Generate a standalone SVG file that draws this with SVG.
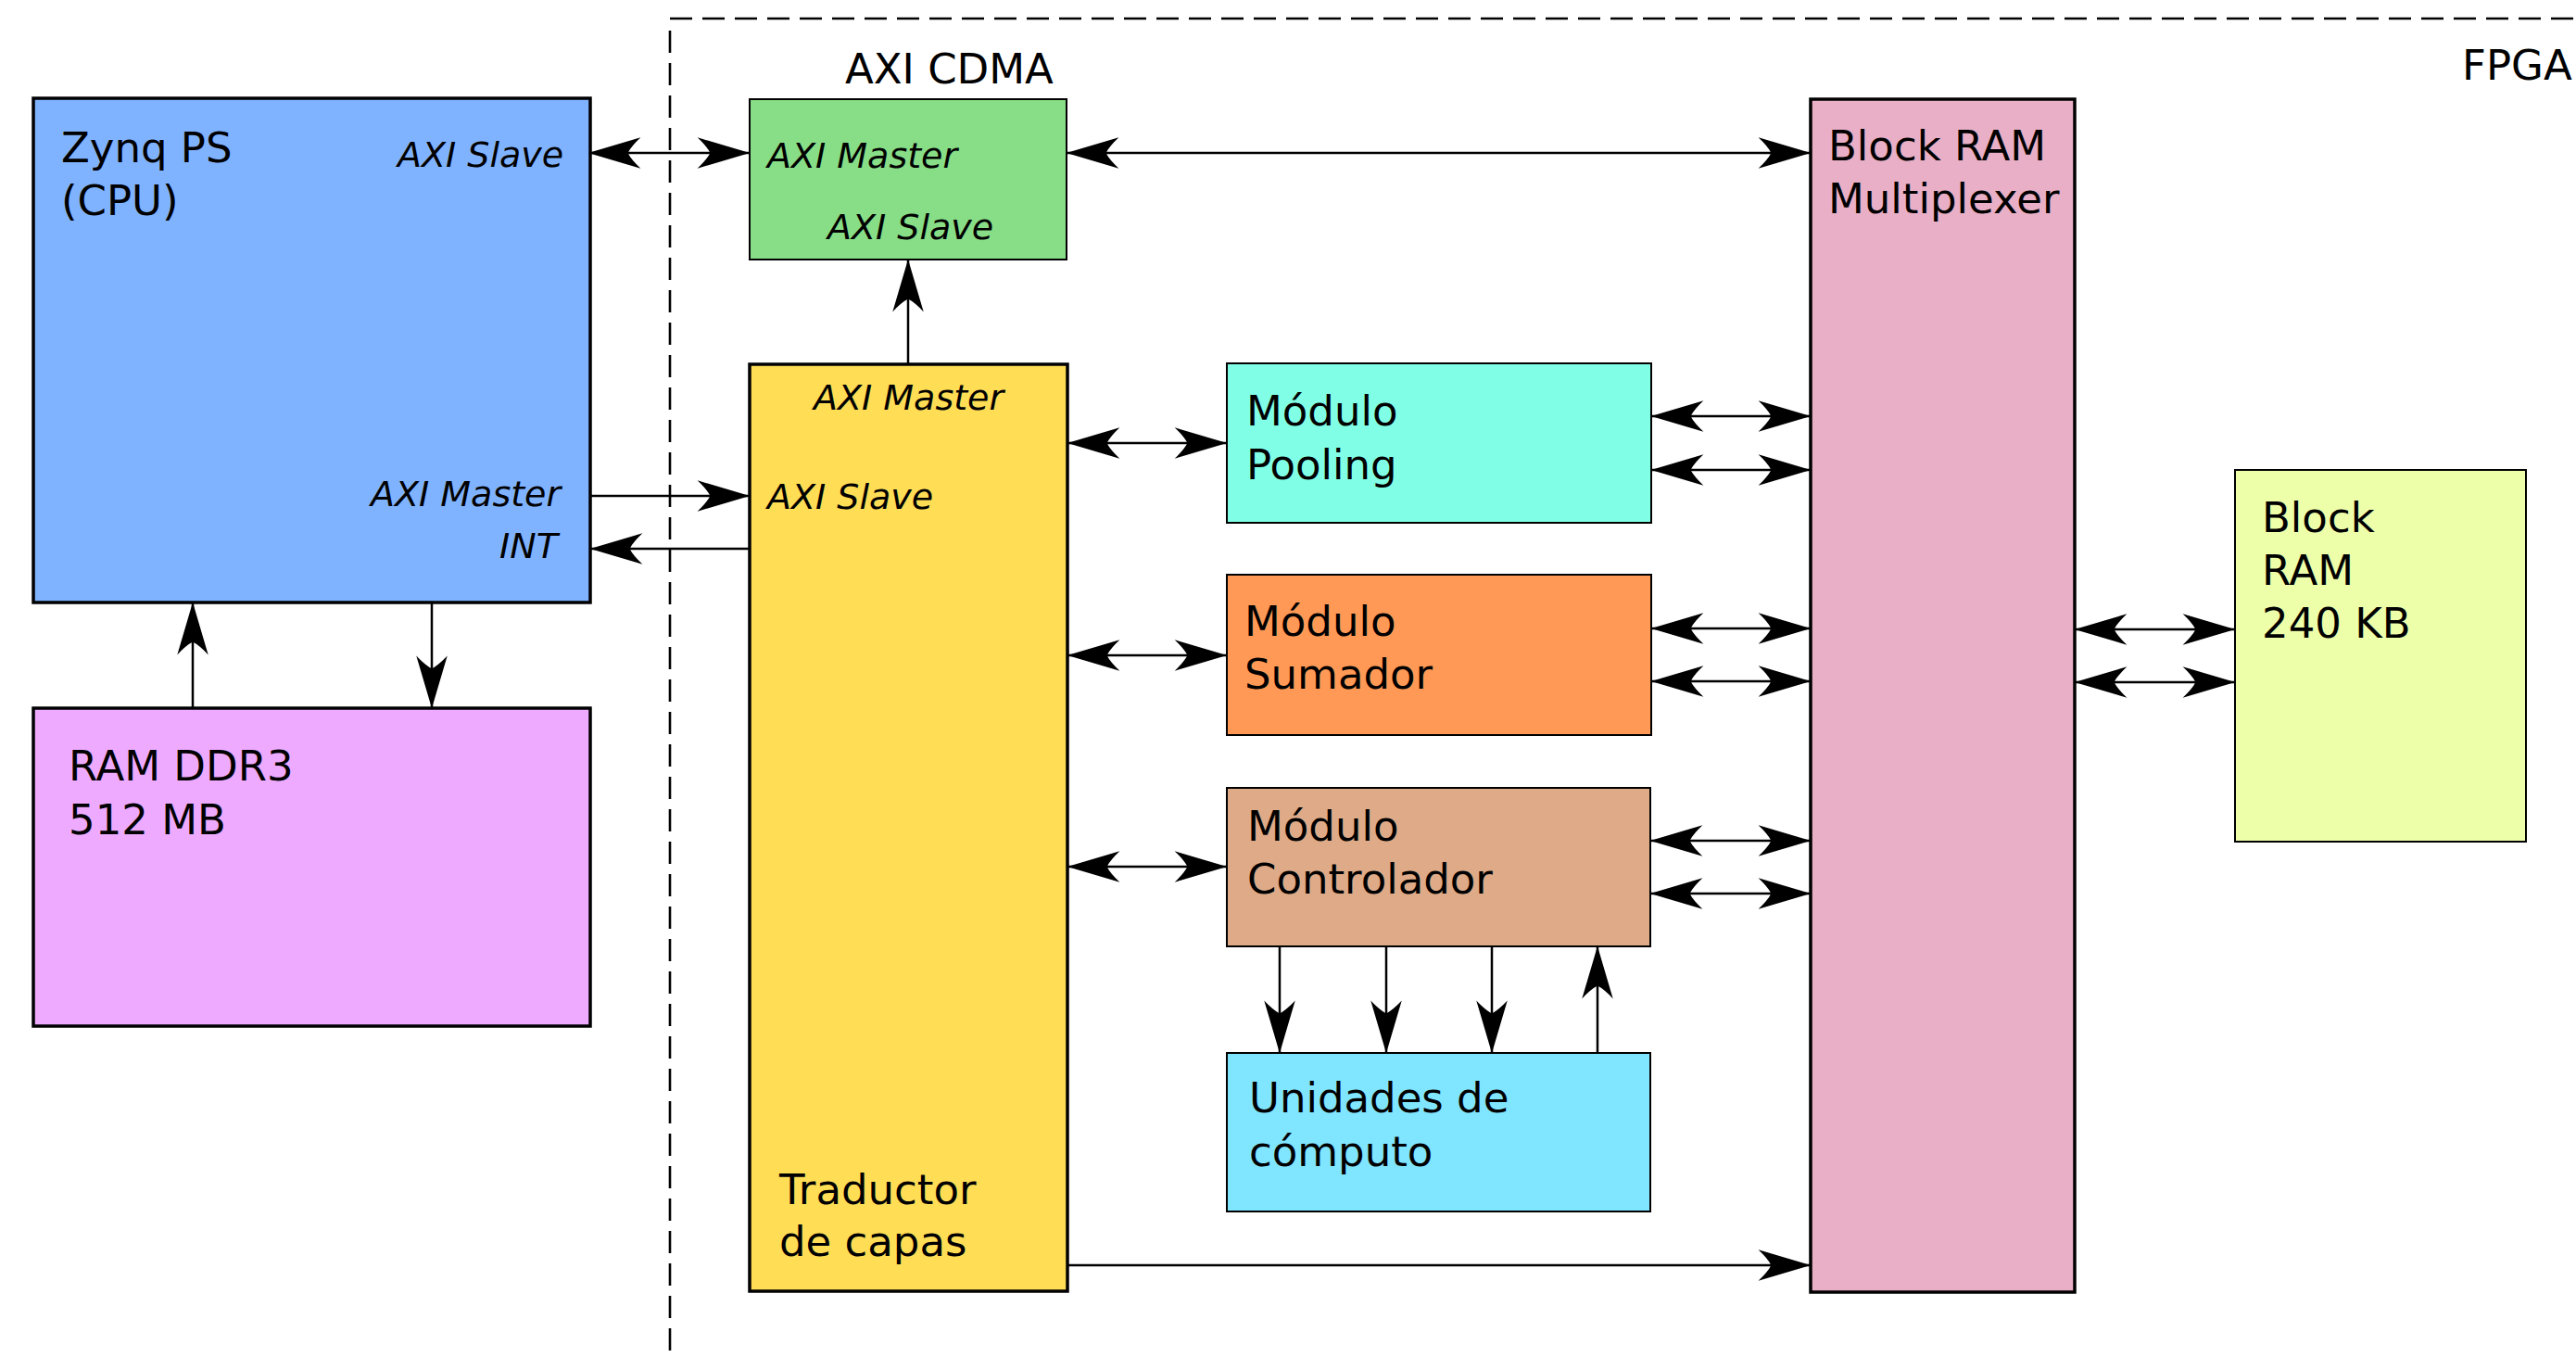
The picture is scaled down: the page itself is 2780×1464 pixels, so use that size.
<svg xmlns="http://www.w3.org/2000/svg" width="2780" height="1464" viewBox="0 0 2780 1464">
<style>
text{font-family:"DejaVu Sans","Liberation Sans",sans-serif;fill:#000}
.t{font-size:45px}
.i{font-size:38px;font-style:italic}
.box{stroke:#000;stroke-width:2.5}
.thick{stroke-width:3.5}
.thin{stroke-width:2}
.c{fill:none;stroke:#000;stroke-width:2.5}
.d{marker-start:url(#ah);marker-end:url(#ah)}
.e{marker-end:url(#ah)}
.fr{fill:none;stroke:#000;stroke-width:2.6;stroke-dasharray:24 11}
</style>
<defs>
<marker id="ah" markerUnits="userSpaceOnUse" markerWidth="60" markerHeight="40" viewBox="-50 -16 52 32" refX="0" refY="0" orient="auto-start-reverse">
<path d="M1,0 L-48,-14.5 Q-39,-6 -36,0 Q-39,6 -48,14.5 Z" fill="#000"/>
</marker>
</defs>
<rect width="2780" height="1464" fill="#fff"/>
<g id="fpga">
<line class="fr" x1="723" y1="20" x2="2780" y2="20"/>
<line class="fr" x1="723" y1="33" x2="723" y2="1464"/>
<text class="t" x="2657" y="86">FPGA</text>
</g>
<g id="zynq">
<rect class="box thick" x="36" y="106" width="601" height="544" fill="#80b3ff"/>
<text class="t" x="66" y="175">Zynq PS</text>
<text class="t" x="66" y="232">(CPU)</text>
<text class="i" x="429" y="180">AXI Slave</text>
<text class="i" x="400" y="546">AXI Master</text>
<text class="i" x="539" y="602">INT</text>
</g>
<g id="ramddr3">
<rect class="box thick" x="36" y="764" width="601" height="343" fill="#eeaaff"/>
<text class="t" x="74" y="842">RAM DDR3</text>
<text class="t" x="74" y="900">512 MB</text>
</g>
<g id="cdma">
<text class="t" x="912" y="90">AXI CDMA</text>
<rect class="box thin" x="809" y="107" width="342" height="173" fill="#87de87"/>
<text class="i" x="828" y="181">AXI Master</text>
<text class="i" x="893" y="258">AXI Slave</text>
</g>
<g id="traductor">
<rect class="box thick" x="809" y="393" width="343" height="1000" fill="#ffdd55"/>
<text class="i" x="878" y="442">AXI Master</text>
<text class="i" x="828" y="549">AXI Slave</text>
<text class="t" x="841" y="1299">Traductor</text>
<text class="t" x="841" y="1355">de capas</text>
</g>
<g id="pooling">
<rect class="box thin" x="1324" y="392" width="458" height="172" fill="#80ffe6"/>
<text class="t" x="1345" y="459">Módulo</text>
<text class="t" x="1345" y="517">Pooling</text>
</g>
<g id="sumador">
<rect class="box thin" x="1324" y="620" width="458" height="173" fill="#ff9955"/>
<text class="t" x="1343" y="686">Módulo</text>
<text class="t" x="1343" y="743">Sumador</text>
</g>
<g id="controlador">
<rect class="box thin" x="1324" y="850" width="457" height="171" fill="#deaa87"/>
<text class="t" x="1346" y="907">Módulo</text>
<text class="t" x="1346" y="964">Controlador</text>
</g>
<g id="unidades">
<rect class="box thin" x="1324" y="1136" width="457" height="171" fill="#80e5ff"/>
<text class="t" x="1348" y="1200">Unidades de</text>
<text class="t" x="1348" y="1258">cómputo</text>
</g>
<g id="mux">
<rect class="box thick" x="1954" y="107" width="285" height="1287" fill="#e9afc6"/>
<text class="t" x="1973" y="173">Block RAM</text>
<text class="t" x="1973" y="230">Multiplexer</text>
</g>
<g id="bram">
<rect class="box thin" x="2412" y="507" width="314" height="401" fill="#eeffaa"/>
<text class="t" x="2441" y="574">Block</text>
<text class="t" x="2441" y="631">RAM</text>
<text class="t" x="2441" y="688">240 KB</text>
</g>
<g id="connectors">
<line class="c d" x1="636" y1="165" x2="808" y2="165"/>
<line class="c d" x1="1152" y1="165" x2="1953" y2="165"/>
<line class="c e" x1="980" y1="392" x2="980" y2="281"/>
<line class="c e" x1="638" y1="535" x2="808" y2="535"/>
<line class="c e" x1="808" y1="592" x2="638" y2="592"/>
<line class="c d" x1="1153" y1="478" x2="1323" y2="478"/>
<line class="c d" x1="1153" y1="707" x2="1323" y2="707"/>
<line class="c d" x1="1153" y1="935" x2="1323" y2="935"/>
<line class="c d" x1="1783" y1="449" x2="1953" y2="449"/>
<line class="c d" x1="1783" y1="507" x2="1953" y2="507"/>
<line class="c d" x1="1783" y1="678" x2="1953" y2="678"/>
<line class="c d" x1="1783" y1="735" x2="1953" y2="735"/>
<line class="c d" x1="1782" y1="907" x2="1953" y2="907"/>
<line class="c d" x1="1782" y1="964" x2="1953" y2="964"/>
<line class="c d" x1="2240" y1="679" x2="2411" y2="679"/>
<line class="c d" x1="2240" y1="736" x2="2411" y2="736"/>
<line class="c e" x1="1381" y1="1022" x2="1381" y2="1135"/>
<line class="c e" x1="1496" y1="1022" x2="1496" y2="1135"/>
<line class="c e" x1="1610" y1="1022" x2="1610" y2="1135"/>
<line class="c e" x1="1724" y1="1135" x2="1724" y2="1022"/>
<line class="c e" x1="466" y1="651" x2="466" y2="763"/>
<line class="c e" x1="208" y1="763" x2="208" y2="651"/>
<line class="c e" x1="1153" y1="1365" x2="1953" y2="1365"/>
</g>
</svg>
